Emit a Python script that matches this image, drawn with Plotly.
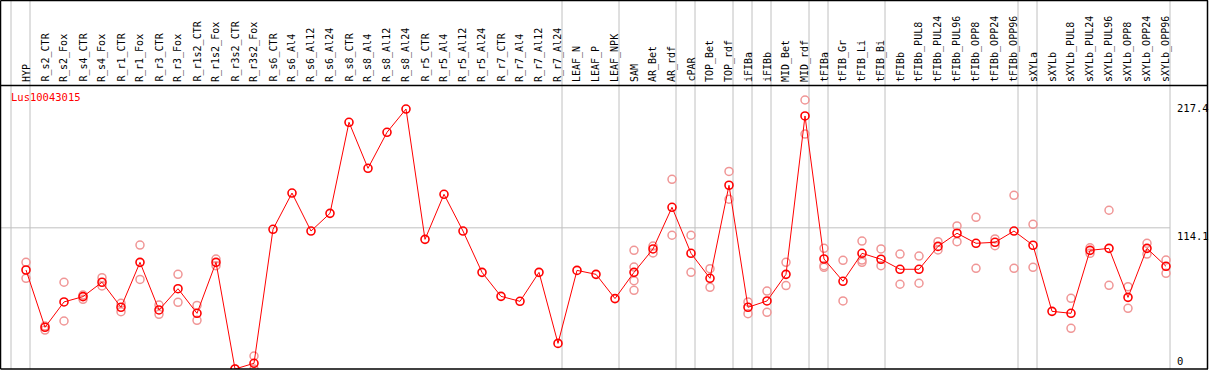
import plotly.graph_objects as go

categories = ["HYP", "R_s2_CTR", "R_s2_Fox", "R_s4_CTR", "R_s4_Fox", "R_r1_CTR", "R_r1_Fox",
              "R_r3_CTR", "R_r3_Fox", "R_r1s2_CTR", "R_r1s2_Fox", "R_r3s2_CTR", "R_r3s2_Fox",
              "R_s6_CTR", "R_s6_Al4", "R_s6_Al12", "R_s6_Al24", "R_s8_CTR", "R_s8_Al4", "R_s8_Al12",
              "R_s8_Al24", "R_r5_CTR", "R_r5_Al4", "R_r5_Al12", "R_r5_Al24", "R_r7_CTR", "R_r7_Al4",
              "R_r7_Al12", "R_r7_Al24", "LEAF_N", "LEAF_P", "LEAF_NPK", "SAM", "AR_Bet", "AR_rdf",
              "cPAR", "TOP_Bet", "TOP_rdf", "iFIBa", "iFIBb", "MID_Bet", "MID_rdf", "tFIBa",
              "tFIB_Gr", "tFIB_Li", "tFIB_Bi", "tFIBb", "tFIBb_PUL8", "tFIBb_PUL24", "tFIBb_PUL96",
              "tFIBb_OPP8", "tFIBb_OPP24", "tFIBb_OPP96", "sXYLa", "sXYLb", "sXYLb_PUL8",
              "sXYLb_PUL24", "sXYLb_PUL96", "sXYLb_OPP8", "sXYLb_OPP24", "sXYLb_OPP96"]

means = [80.0, 33.7, 54.2, 58.5, 70.1, 49.9, 86.2, 47.7, 64.9, 45.0, 86.2, 0.0, 4.6,
         112.9, 142.2, 111.5, 125.8, 199.4, 162.2, 191.3, 210.1, 104.8, 141.2, 111.5, 78.1,
         58.7, 54.7, 78.1, 20.7, 79.7, 76.5, 56.9, 78.1, 97.0, 130.7, 93.5, 73.3, 148.5,
         49.9, 55.0, 76.5, 204.5, 88.9, 70.9, 93.5, 88.7, 80.6, 80.6, 99.1, 109.7, 101.6,
         102.4, 111.5, 100.0, 46.6, 45.0, 95.9, 97.5, 57.9, 97.5, 83.0]

replicates = [
    [86.2, 73.3], [31.5, 34.8], [70.1, 38.8], [59.8, 56.3], [73.8, 67.1], [53.1, 46.3],
    [100.2, 72.4], [51.7, 44.2], [76.5, 53.9], [51.4, 39.3], [88.9, 83.5], [0.0],
    [10.5, 0.0], [], [], [], [], [], [], [], [], [], [], [], [], [], [], [], [],
    [], [], [], [95.9, 82.4, 71.4, 63.6], [99.4, 93.8], [153.3, 108.1], [108.1, 78.1],
    [81.1, 66.0], [159.7, 137.2], [54.2, 44.7], [63.0, 45.8], [86.2, 67.4],
    [217.4, 189.9], [97.5, 83.5, 82.2], [87.8, 55.0], [103.4, 86.2, 88.0], [97.0, 83.5],
    [92.9, 68.5], [91.3, 69.3], [102.9, 96.2], [115.6, 102.9], [122.6, 81.4],
    [105.1, 99.7], [140.4, 81.4], [116.9, 82.2], [], [57.1, 32.9], [98.0, 93.5],
    [128.3, 67.6], [66.5, 49.0], [101.6, 92.9], [88.1, 77.3]]

group_ends = [-1, 0, 28, 31, 34, 35, 37, 38, 39, 41, 42, 45, 52, 53, 60]
gene = "Lus10043015"
axis_ticks = [217.4, 114.1, 0]

W, H = 1209, 370
STEP = 19.0
X0 = 26.0
PX_PER_UNIT = 269.0 / 217.4
PLOT_TOP, PLOT_BOT = 86, 369
FONT = "DejaVu Sans Mono"

idx = list(range(len(categories)))
rx, ry = [], []
for i, reps in enumerate(replicates):
    for v in reps:
        rx.append(i)
        ry.append(v)

fig = go.Figure()
fig.add_trace(go.Scatter(
    x=rx, y=ry, mode="markers",
    marker=dict(symbol="circle-open", size=8, color="rgb(240,150,150)",
                line=dict(width=1.5, color="rgb(240,150,150)")),
    hoverinfo="skip", showlegend=False))
fig.add_trace(go.Scatter(
    x=idx, y=means, mode="lines+markers",
    line=dict(color="#ff0000", width=1),
    marker=dict(symbol="circle-open", size=8, color="#ff0000",
                line=dict(width=1.6, color="#ff0000")),
    showlegend=False))

xr = [-X0 / STEP, (W - X0) / STEP]
yr_top = (PLOT_BOT - PLOT_TOP) / PX_PER_UNIT
off = 4.0 / STEP

shapes = []
for g in group_ends:
    shapes.append(dict(type="line", xref="x", yref="paper", x0=g + off, x1=g + off,
                       y0=(H - PLOT_BOT) / H, y1=1, line=dict(color="#c0c0c0", width=1),
                       layer="below"))
shapes.append(dict(type="line", xref="paper", yref="y", x0=0, x1=(60 + off - xr[0]) / (xr[1] - xr[0]),
                   y0=114.1, y1=114.1, line=dict(color="#c0c0c0", width=1), layer="below"))
# frame
for (x0, y0, x1, y1) in [(0.5, 0.5, W - 1, 0.5), (0.5, PLOT_TOP - 0.5, W - 1, PLOT_TOP - 0.5),
                         (0.5, PLOT_BOT, W - 1, PLOT_BOT), (0.5, 0.5, 0.5, PLOT_BOT),
                         (W - 1.5, 0.5, W - 1.5, PLOT_BOT)]:
    shapes.append(dict(type="line", xref="paper", yref="paper",
                       x0=x0 / W, x1=x1 / W, y0=1 - y0 / H, y1=1 - y1 / H,
                       line=dict(color="black", width=1.5)))

annotations = []
for i, c in enumerate(categories):
    annotations.append(dict(x=i, xref="x", y=1 - 84 / H, yref="paper", text=c,
                            textangle=-90, xanchor="center", yanchor="bottom",
                            showarrow=False, font=dict(family=FONT, size=10, color="black")))
annotations.append(dict(x=9 / W, xref="paper", y=1 - 97 / H, yref="paper", text=gene,
                        showarrow=False, xanchor="left", yanchor="middle",
                        font=dict(family=FONT, size=10.5, color="#ff0000")))
for t in axis_ticks:
    annotations.append(dict(x=1175 / W, xref="paper", y=t, yref="y",
                            text=("%g" % t) if t == 0 else "%.1f" % t, showarrow=False,
                            xanchor="left", yanchor="bottom" if t == 0 else "top",
                            font=dict(family=FONT, size=10.5, color="black")))

fig.update_layout(
    width=W, height=H, autosize=False,
    margin=dict(l=0, r=0, t=0, b=0, pad=0),
    paper_bgcolor="white", plot_bgcolor="white",
    xaxis=dict(range=xr, showgrid=False, zeroline=False, showticklabels=False,
               ticks="", fixedrange=True),
    yaxis=dict(range=[0, yr_top], domain=[(H - PLOT_BOT) / H, (H - PLOT_TOP) / H],
               showgrid=False, zeroline=False, showticklabels=False, ticks="", fixedrange=True),
    shapes=shapes, annotations=annotations,
)
fig.write_html("out.html", config={"displayModeBar": False},
               post_script="document.body.style.margin='0';document.body.style.overflow='hidden';")
